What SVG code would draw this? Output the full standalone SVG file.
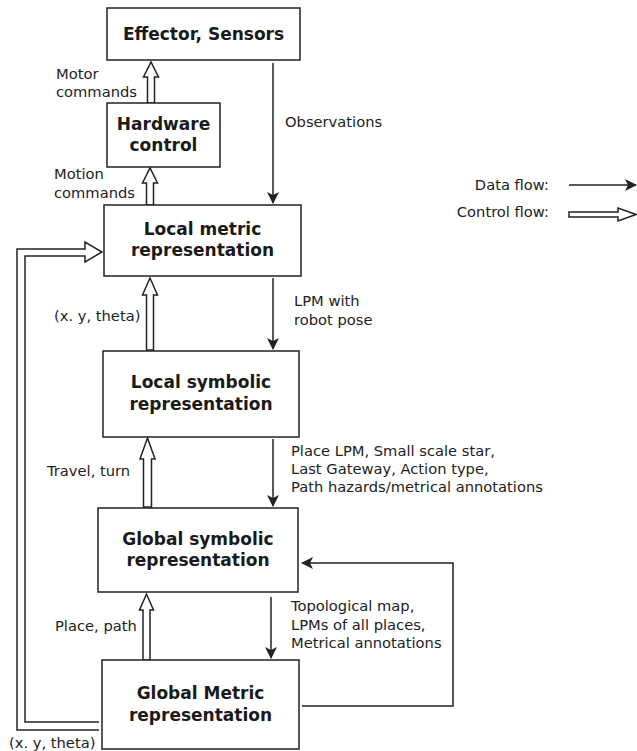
<svg xmlns="http://www.w3.org/2000/svg" width="637" height="751" viewBox="0 0 637 751">
<style>
.box{fill:#fff;stroke:#222;stroke-width:1.5}
.t{font-family:"DejaVu Sans","Liberation Sans",sans-serif;font-size:17px;font-weight:bold;fill:#1a1a1a;text-anchor:middle}
.l{font-family:"DejaVu Sans","Liberation Sans",sans-serif;font-size:14.7px;fill:#222}
.d{fill:none;stroke:#222;stroke-width:1.5;marker-end:url(#ah)}
.c{fill:#fff;stroke:#222;stroke-width:1.5;stroke-linejoin:miter}
</style>
<defs>
<marker id="ah" viewBox="0 0 12 12" refX="11" refY="6" markerWidth="12" markerHeight="12" markerUnits="userSpaceOnUse" orient="auto">
<path d="M0,0 L12,6 L0,12 L3,6 z" fill="#222"/>
</marker>
</defs>
<g id="connectors">
<line class="d" x1="273" y1="63" x2="273" y2="203"/>
<line class="d" x1="273" y1="278" x2="273" y2="349"/>
<line class="d" x1="273" y1="439" x2="273" y2="506"/>
<line class="d" x1="271" y1="597" x2="271" y2="658"/>
<polyline class="d" points="302,706 453,706 453,563 302,563"/>
<polygon class="c" points="147.5,103 147.5,77 143.5,77 151,62 158.5,77 154.5,77 154.5,103"/>
<polygon class="c" points="146.5,205 146.5,183 142.5,183 150,168 157.5,183 153.5,183 153.5,205"/>
<polygon class="c" points="146.5,350 146.5,295 142.5,295 150,278 157.5,295 153.5,295 153.5,350"/>
<polygon class="c" points="143.5,507 143.5,459 140,459 147.5,438 155,459 151.5,459 151.5,507"/>
<polygon class="c" points="143,660 143,610 139.5,610 146.5,594 153.5,610 150,610 150,660"/>
<path class="c" d="M99,730 H17 V249 H85 V242 L102,252 L85,262 V256 H25 V722 H99" style="fill:none"/>
<line class="d" x1="569" y1="185" x2="636" y2="185"/>
<polygon class="c" points="569,212 618,212 618,208 636,214.5 618,221 618,217 569,217"/>
</g>
<g id="effector"><rect class="box" x="107" y="8" width="193" height="52"/><text class="t" x="203.5" y="40">Effector, Sensors</text></g>
<g id="hardware"><rect class="box" x="107" y="103" width="113" height="64"/><text class="t" x="163.5" y="130">Hardware</text><text class="t" x="163.5" y="151">control</text></g>
<g id="localmetric"><rect class="box" x="104" y="205" width="197" height="71"/><text class="t" x="202.5" y="235">Local metric</text><text class="t" x="202.5" y="256">representation</text></g>
<g id="localsymbolic"><rect class="box" x="103" y="351" width="196" height="86"/><text class="t" x="201" y="388">Local symbolic</text><text class="t" x="201" y="410">representation</text></g>
<g id="globalsymbolic"><rect class="box" x="98" y="508" width="200" height="84"/><text class="t" x="198" y="545">Global symbolic</text><text class="t" x="198" y="566">representation</text></g>
<g id="globalmetric"><rect class="box" x="102" y="660" width="197" height="89"/><text class="t" x="200.5" y="699">Global Metric</text><text class="t" x="200.5" y="721">representation</text></g>
<g id="labels">
<text class="l" x="56" y="79">Motor</text>
<text class="l" x="56" y="97">commands</text>
<text class="l" x="54" y="179">Motion</text>
<text class="l" x="54" y="198">commands</text>
<text class="l" x="285" y="127">Observations</text>
<text class="l" x="294" y="306">LPM with</text>
<text class="l" x="294" y="325">robot pose</text>
<text class="l" x="54" y="321">(x. y, theta)</text>
<text class="l" x="47" y="476">Travel, turn</text>
<text class="l" x="291" y="456">Place LPM, Small scale star,</text>
<text class="l" x="291" y="474">Last Gateway, Action type,</text>
<text class="l" x="291" y="492">Path hazards/metrical annotations</text>
<text class="l" x="55" y="631">Place, path</text>
<text class="l" x="291" y="611">Topological map,</text>
<text class="l" x="291" y="630">LPMs of all places,</text>
<text class="l" x="291" y="648">Metrical annotations</text>
<text class="l" x="9" y="748">(x. y, theta)</text>
<text class="l" x="549" y="190" text-anchor="end">Data flow:</text>
<text class="l" x="549" y="217" text-anchor="end">Control flow:</text>
</g>
</svg>
